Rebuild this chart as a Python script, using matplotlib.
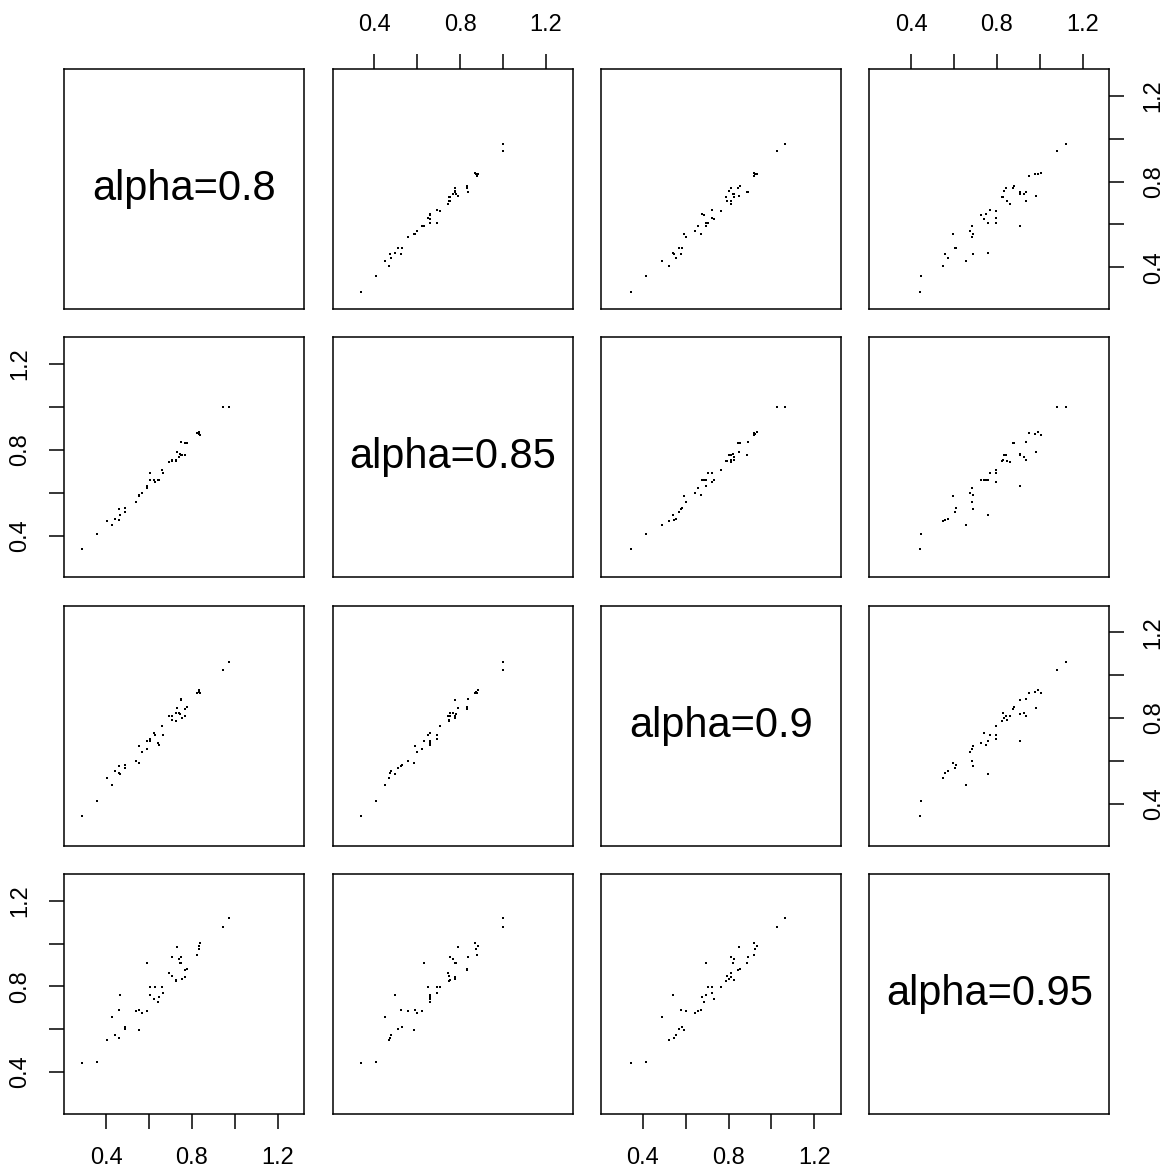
import matplotlib
matplotlib.use("Agg")
import matplotlib.pyplot as plt

plt.rcParams['font.family'] = ['Liberation Sans', 'DejaVu Sans']

# 各変数の値
alpha_08 = [0.286, 0.358, 0.405, 0.428, 0.442, 0.461, 0.461, 0.465, 0.489, 0.489,
            0.540, 0.554, 0.554, 0.568, 0.592, 0.592, 0.606, 0.606, 0.624, 0.629,
            0.643, 0.648, 0.662, 0.667, 0.695, 0.709, 0.709, 0.727, 0.727, 0.732,
            0.741, 0.744, 0.751, 0.751, 0.755, 0.769, 0.769, 0.779, 0.826, 0.835,
            0.835, 0.839, 0.943, 0.975]
alpha_085 = [0.337, 0.407, 0.468, 0.449, 0.477, 0.472, 0.524, 0.496, 0.510, 0.528,
             0.556, 0.584, 0.589, 0.598, 0.622, 0.631, 0.659, 0.692, 0.659, 0.650,
             0.659, 0.659, 0.706, 0.692, 0.744, 0.748, 0.753, 0.748, 0.753, 0.790,
             0.767, 0.781, 0.776, 0.837, 0.776, 0.776, 0.832, 0.832, 0.879, 0.875,
             0.884, 0.871, 1.001, 1.001]
alpha_09 = [0.343, 0.413, 0.520, 0.488, 0.553, 0.544, 0.577, 0.539, 0.567, 0.581,
            0.600, 0.591, 0.670, 0.642, 0.656, 0.693, 0.693, 0.703, 0.731, 0.722,
            0.684, 0.675, 0.764, 0.722, 0.810, 0.792, 0.810, 0.787, 0.824, 0.848,
            0.824, 0.820, 0.885, 0.890, 0.801, 0.810, 0.843, 0.853, 0.918, 0.923,
            0.932, 0.918, 1.026, 1.063]
alpha_095 = [0.442, 0.447, 0.550, 0.657, 0.573, 0.559, 0.690, 0.760, 0.603, 0.611,
             0.686, 0.597, 0.690, 0.676, 0.686, 0.910, 0.760, 0.798, 0.742, 0.798,
             0.728, 0.751, 0.798, 0.770, 0.863, 0.849, 0.938, 0.824, 0.831, 0.985,
             0.929, 0.910, 0.910, 0.938, 0.835, 0.845, 0.877, 0.882, 0.948, 0.976,
             0.990, 1.004, 1.079, 1.121]

labels = ["alpha=0.8", "alpha=0.85", "alpha=0.9", "alpha=0.95"]
tick_values = [0.4, 0.6, 0.8, 1.0, 1.2]
tick_labels = ["0.4", "", "0.8", "", "1.2"]

W, H = 1164, 1172
col_left = [64.4, 332.7, 601.0, 869.3]
row_top = [69.0, 337.3, 605.6, 873.9]
panel = 240.0
lims = (0.205, 1.325)


def setup_axis(ax, i, j, n):
    ax.set_xlim(lims)
    ax.set_ylim(lims)
    for s in ax.spines.values():
        s.set_linewidth(1.1)
    ax.tick_params(length=11, width=1.1, pad=13, labelsize=17)
    ax.set_xticks(tick_values)
    ax.set_yticks(tick_values)
    ax.set_xticklabels(tick_labels)
    ax.set_yticklabels(tick_labels, rotation=90, va="center")

    # R の pairs と同じく軸を交互に配置
    top = (i == 0 and j % 2 == 1)
    bottom = (i == n - 1 and j % 2 == 0)
    left = (j == 0 and i % 2 == 1)
    right = (j == n - 1 and i % 2 == 0)
    ax.tick_params(axis="x", top=top, labeltop=top, bottom=bottom, labelbottom=bottom)
    ax.tick_params(axis="y", left=left, labelleft=left, right=right, labelright=right)


def main():
    data = [alpha_08, alpha_085, alpha_09, alpha_095]
    n = len(data)
    fig = plt.figure(figsize=(W / 100, H / 100), dpi=100)

    for i in range(n):
        for j in range(n):
            rect = [col_left[j] / W, 1 - (row_top[i] + panel) / H, panel / W, panel / H]
            ax = fig.add_axes(rect)
            setup_axis(ax, i, j, n)
            if i == j:
                ax.text(0.5, 0.5, labels[i], transform=ax.transAxes,
                        ha="center", va="center", fontsize=30)
            else:
                ax.plot(data[j], data[i], linestyle="none", marker="s",
                        markersize=1.5, markeredgewidth=0, color="black")

    fig.savefig("out.png", dpi=100)


if __name__ == "__main__":
    main()
